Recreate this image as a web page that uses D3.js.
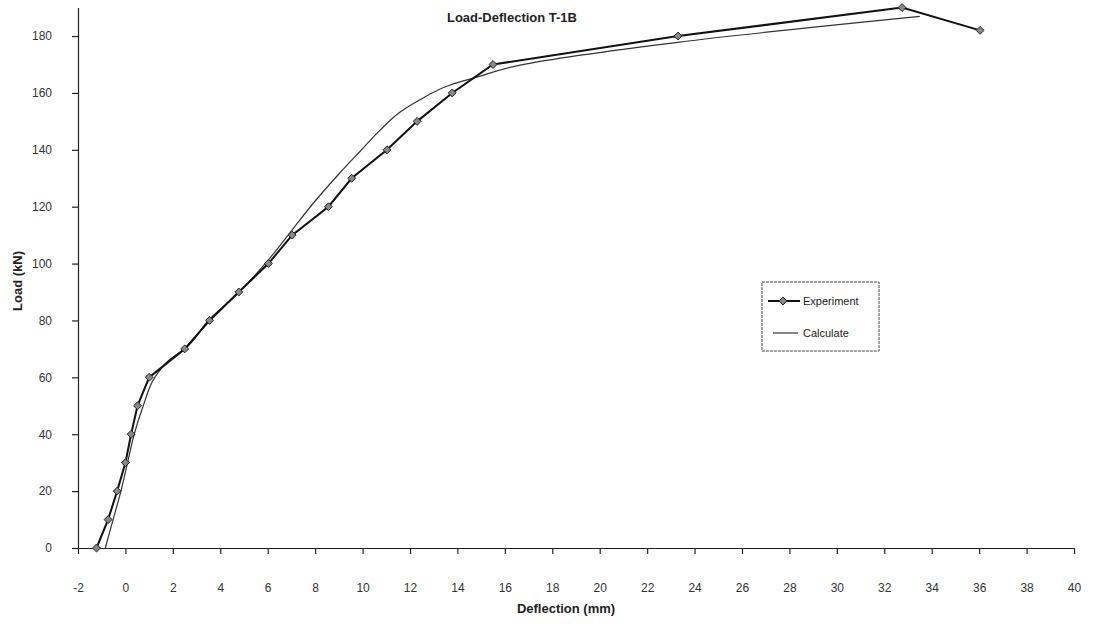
<!DOCTYPE html>
<html>
<head>
<meta charset="utf-8">
<script src="https://cdn.jsdelivr.net/npm/d3@7"></script>
<style>
  body { margin: 0; background: #fff; }
  svg { font-family: "Liberation Sans", Arial, sans-serif; }
</style>
</head>
<body>
<div id="chart"></div>
<script>
// Experiment series (deflection mm, load kN)
var expDefl = [-1.22, -0.73, -0.35, 0.0, 0.24, 0.51, 1.0, 2.5, 3.55, 4.78, 6.03, 7.03, 8.56, 9.54, 11.03, 12.3, 13.78, 15.5, 23.3, 32.75, 36.04]
var expLoad = [0, 10, 20, 30, 40, 50, 60, 70, 80, 90, 100, 110, 120, 130, 140, 150, 160, 170, 180, 190, 182]

// Calculate series
var calcDefl = [-0.85, -0.52, -0.19, 0.09, 0.37, 0.75, 1.24, 1.87, 2.5, 3.5, 4.8, 6.0, 6.95, 8.0, 9.0, 9.9, 10.75, 11.6, 12.4, 13.7, 14.67, 16.65, 23.3, 33.5]
var calcLoad = [0, 10, 20, 30, 40, 50, 60, 66.3, 70, 80, 90, 101, 111, 122, 131.5, 139.5, 147, 153.4, 157.5, 162.8, 165.2, 169.8, 177.8, 186.9]

var xTicks = d3.range(-2, 41, 2)
var yTicks = d3.range(0, 181, 20)

var width = 1098, height = 624

var svg = d3.select('#chart')
    .append('svg')
    .attr('width', width)
    .attr('height', height)

var x = d3.scaleLinear().domain([-2, 40]).range([78, 1074])
var y = d3.scaleLinear().domain([0, 190]).range([548, 7.6])

var expData = expDefl.map(function(d, i) { return {x: d, y: expLoad[i]} })
var calcData = calcDefl.map(function(d, i) { return {x: d, y: calcLoad[i]} })

// axes
var xAxis = svg.append('g')
    .attr('transform', 'translate(0,' + y(0) + ')')
    .call(d3.axisBottom(x).tickValues(xTicks).tickFormat(function(d) { return String(d) })
        .tickSize(6).tickPadding(29).tickSizeOuter(0))
var yAxis = svg.append('g')
    .attr('transform', 'translate(' + x(-2) + ',0)')
    .call(d3.axisLeft(y).tickValues(yTicks).tickSize(6).tickPadding(20).tickSizeOuter(0))

svg.selectAll('.domain, .tick line')
    .attr('stroke', '#222')
    .attr('stroke-width', 1.2)
svg.selectAll('.tick text')
    .attr('fill', '#333')
    .style('font-size', '12px')

// lines
var line = d3.line().x(function(d) { return x(d.x) }).y(function(d) { return y(d.y) })
var curve = d3.line().x(function(d) { return x(d.x) }).y(function(d) { return y(d.y) }).curve(d3.curveMonotoneY)

svg.append('path')
    .datum(calcData)
    .attr('d', curve)
    .attr('fill', 'none')
    .attr('stroke', '#333')
    .attr('stroke-width', 1.2)

svg.append('path')
    .datum(expData)
    .attr('d', line)
    .attr('fill', 'none')
    .attr('stroke', '#111')
    .attr('stroke-width', 2)

var diamond = d3.symbol().type(d3.symbolDiamond2).size(40)

svg.selectAll('.pt')
    .data(expData)
    .enter()
    .append('path')
    .attr('class', 'pt')
    .attr('d', diamond)
    .attr('transform', function(d) { return 'translate(' + x(d.x) + ',' + y(d.y) + ')' })
    .attr('fill', '#888')
    .attr('stroke', '#222')
    .attr('stroke-width', 1)

// titles
svg.append('text')
    .attr('x', 512).attr('y', 22)
    .attr('text-anchor', 'middle')
    .style('font-size', '13px').style('font-weight', 'bold')
    .attr('fill', '#222')
    .text('Load-Deflection T-1B')

svg.append('text')
    .attr('x', 566).attr('y', 613)
    .attr('text-anchor', 'middle')
    .style('font-size', '13px').style('font-weight', 'bold')
    .attr('fill', '#222')
    .text('Deflection (mm)')

svg.append('text')
    .attr('transform', 'translate(22,281) rotate(-90)')
    .attr('text-anchor', 'middle')
    .style('font-size', '13px').style('font-weight', 'bold')
    .attr('fill', '#222')
    .text('Load (kN)')

// legend
var legend = svg.append('g')
legend.append('rect')
    .attr('x', 762).attr('y', 282).attr('width', 117).attr('height', 69)
    .attr('fill', '#fff')
    .attr('stroke', '#444')
    .attr('stroke-width', 1)
    .attr('stroke-dasharray', '3,1')

legend.append('line')
    .attr('x1', 768).attr('x2', 800).attr('y1', 301).attr('y2', 301)
    .attr('stroke', '#111').attr('stroke-width', 2)
legend.append('path')
    .attr('d', diamond)
    .attr('transform', 'translate(783,301)')
    .attr('fill', '#888').attr('stroke', '#222')
legend.append('text')
    .attr('x', 803).attr('y', 305)
    .style('font-size', '11px').attr('fill', '#222')
    .text('Experiment')

legend.append('line')
    .attr('x1', 773).attr('x2', 798).attr('y1', 333).attr('y2', 333)
    .attr('stroke', '#333').attr('stroke-width', 1.2)
legend.append('text')
    .attr('x', 803).attr('y', 337)
    .style('font-size', '11px').attr('fill', '#222')
    .text('Calculate')
</script>
</body>
</html>
